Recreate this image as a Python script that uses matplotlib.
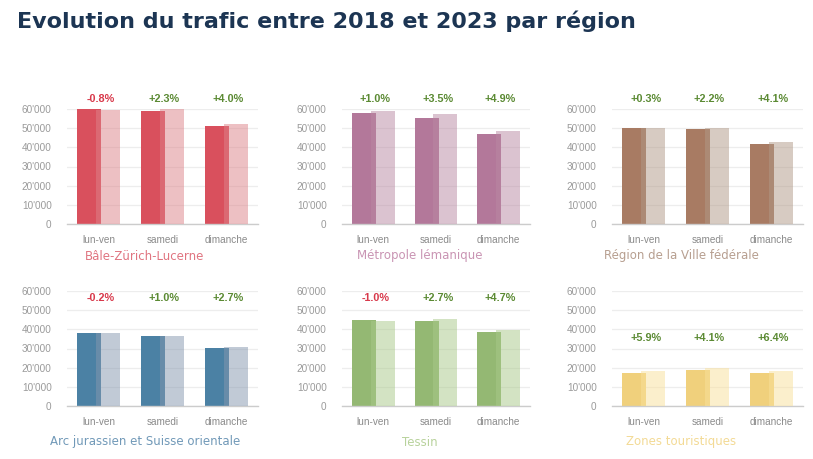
import matplotlib
matplotlib.use("Agg")
import matplotlib.pyplot as plt
from matplotlib.ticker import FuncFormatter
import numpy as np

# Data
categories = ["lun-ven", "samedi", "dimanche"]
regions = [
    "Bâle-Zürich-Lucerne",
    "Métropole lémanique",
    "Région de la Ville fédérale",
    "Arc jurassien et Suisse orientale",
    "Tessin",
    "Zones touristiques",
]
traffic_2018 = [
    [60200, 59100, 51200],
    [58100, 55100, 46900],
    [49900, 49400, 41600],
    [38200, 36300, 30400],
    [44900, 44100, 38700],
    [17000, 18700, 17300],
]
traffic_2023 = [
    [59700, 60300, 52300],
    [58800, 57200, 48300],
    [50100, 50300, 42600],
    [38100, 36600, 30700],
    [44500, 45600, 39900],
    [18200, 19800, 18200],
]
changes = [
    ["-0.8%", "+2.3%", "+4.0%"],
    ["+1.0%", "+3.5%", "+4.9%"],
    ["+0.3%", "+2.2%", "+4.1%"],
    ["-0.2%", "+1.0%", "+2.7%"],
    ["-1.0%", "+2.7%", "+4.7%"],
    ["+5.9%", "+4.1%", "+6.4%"],
]

# Styles
dark_colors = ["#d9505d", "#b3789a", "#a87b63", "#4b81a4", "#94b873", "#f0d07c"]
light_colors = ["#eec1c4", "#dcc4d1", "#d8ccc3", "#c2cbd7", "#d4e4c4", "#fcf0cd"]
label_colors = ["#e07480", "#c994b3", "#b79f90", "#7199b8", "#b8d29c", "#f3da95"]
label_heights = [65000, 65000, 65000, 56400, 56400, 35700]
neg_color = "#d8394b"
pos_color = "#5b8a33"


def light_overlay(hex_color):
    """Color that gives hex_color on white with alpha 0.5."""
    rgb = np.array(matplotlib.colors.to_rgb(hex_color))
    return tuple(np.clip(2 * rgb - 1, 0, 1))


fig = plt.figure(figsize=(8.13, 4.59), dpi=100)
W, H = 813, 459

# axes boxes in pixels: left, right, top (60000), bottom (0)
col_px = [(67, 258), (342, 530), (612, 803)]
row_px = [(109, 224), (291, 406)]
label_x = [145, 420, 681]
label_y = [256, 442]

fmt = FuncFormatter(lambda v, p: f"{v:,.0f}".replace(",", "'"))
x = np.arange(len(categories))
width = 0.38
offset = 0.15

for i, region in enumerate(regions):
    r, c = divmod(i, 3)
    x0, x1 = col_px[c]
    y0, y1 = row_px[r]
    ax = fig.add_axes([x0 / W, 1 - y1 / H, (x1 - x0) / W, (y1 - y0) / H])

    ax.bar(x - offset, traffic_2018[i], width, color=dark_colors[i], zorder=2)
    ax.bar(x + offset, traffic_2023[i], width,
           color=light_overlay(light_colors[i]), alpha=0.5, zorder=3)

    for j, txt in enumerate(changes[i]):
        ax.text(x[j] + 0.03, label_heights[i], txt, ha="center", va="center",
                fontsize=7.8, fontweight="bold", family="Liberation Sans",
                color=neg_color if txt.startswith("-") else pos_color,
                clip_on=False)

    ax.set_xlim(-0.5, 2.5)
    ax.set_ylim(0, 60000)
    ax.set_yticks(np.arange(0, 60001, 10000))
    ax.yaxis.set_major_formatter(fmt)
    ax.set_xticks(x)
    ax.set_xticklabels(categories)
    ax.grid(axis="y", color="#ededed", linewidth=0.9, zorder=0)
    ax.set_axisbelow(True)
    for s in ["top", "right", "left"]:
        ax.spines[s].set_visible(False)
    ax.spines["bottom"].set_color("#cccccc")
    ax.spines["bottom"].set_linewidth(1.0)
    ax.tick_params(axis="y", length=0, pad=11, labelsize=7.2, labelcolor="#9a9a9a")
    ax.tick_params(axis="x", length=0, pad=8, labelsize=7.2, labelcolor="#8a8a8a")
    for lab in ax.get_xticklabels() + ax.get_yticklabels():
        lab.set_family("Liberation Sans")

    fig.text(label_x[c] / W, 1 - label_y[r] / H, region, ha="center", va="center",
             fontsize=8.5, color=label_colors[i], family="DejaVu Sans")

fig.text(17 / W, 1 - 28 / H, "Evolution du trafic entre 2018 et 2023 par région",
         ha="left", va="baseline", fontsize=16, fontweight="bold",
         family="DejaVu Sans", color="#1c3553")

fig.savefig("out.png", dpi=100, facecolor="white")
